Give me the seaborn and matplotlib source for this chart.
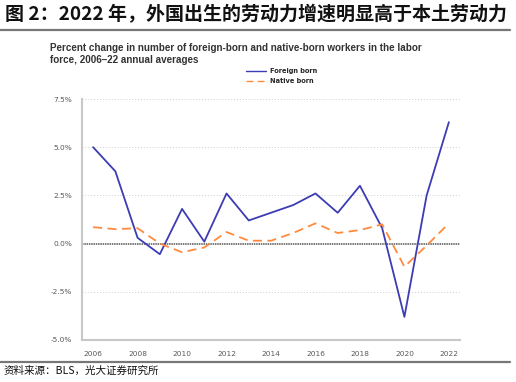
import matplotlib
matplotlib.use("Agg")
import matplotlib.pyplot as plt
import seaborn as sns
import pandas as pd
from matplotlib.lines import Line2D

# data
years = list(range(2006, 2023))
foreign_born = [5.0, 3.75, 0.3, -0.55, 1.8, 0.1, 2.6, 1.2, 1.6, 2.0, 2.6, 1.6, 3.0, 0.8, -3.8, 2.5, 6.3]
native_born = [0.85, 0.75, 0.8, 0.0, -0.45, -0.2, 0.6, 0.15, 0.15, 0.55, 1.05, 0.55, 0.7, 1.0, -1.2, -0.1, 1.05]
y_ticks = [-5.0, -2.5, 0.0, 2.5, 5.0, 7.5]
x_ticks = list(range(2006, 2023, 2))

df = pd.DataFrame({"year": years, "foreign": foreign_born, "native": native_born})

sns.set_theme(style="white")
plt.rcParams['font.family'] = ['Noto Sans CJK SC', 'DejaVu Sans']

fig = plt.figure(figsize=(5.16, 3.82), dpi=100)
ax = fig.add_axes([82/516, 1-340/382, (460-82)/516, (340-99)/382])

blue = "#3c3cb4"
orange = "#ff8a3d"

sns.lineplot(data=df, x="year", y="foreign", ax=ax, color=blue, linewidth=1.3)
sns.lineplot(data=df, x="year", y="native", ax=ax, color=orange, linewidth=1.3,
             linestyle=(0, (5, 3)))

# grid + zero line
for v in y_ticks:
    if v in (0.0, -5.0):
        continue
    ax.axhline(v, color="#d0d0d0", linewidth=0.7, linestyle=(0, (1, 2)), zorder=0)
ax.axhline(0, color="#555555", linewidth=1.1, linestyle=(0, (1, 0.5)), zorder=1)

ax.set_xlim(2005.5, 2022.5)
ax.set_ylim(-5.0, 7.5)
ax.set_yticks(y_ticks)
ax.set_yticklabels([f"{v:.1f}%" for v in y_ticks], fontsize=5.3, color="#595959",
                   family="DejaVu Sans")
ax.set_xticks(x_ticks)
ax.set_xticklabels([str(x) for x in x_ticks], fontsize=5.3, color="#595959",
                   family="DejaVu Sans")
ax.tick_params(axis="both", length=0)
ax.tick_params(axis="y", pad=7)
ax.tick_params(axis="x", pad=8)
ax.set_xlabel("")
ax.set_ylabel("")
for s in ["top", "right"]:
    ax.spines[s].set_visible(False)
ax.spines["left"].set_color("#c8c8c8")
ax.spines["left"].set_linewidth(1.5)
ax.spines["bottom"].set_color("#c8c8c8")
ax.spines["bottom"].set_linewidth(1.5)

# legend
handles = [Line2D([], [], color=blue, linewidth=1.0),
           Line2D([], [], color=orange, linewidth=1.0, linestyle=(0, (5, 3)))]
fig.legend(handles, ["Foreign born", "Native born"], loc="upper left",
           bbox_to_anchor=(246/516, 1-68/382), frameon=False,
           prop={"family": "DejaVu Sans", "weight": "bold", "size": 4.8},
           handlelength=3.0, handletextpad=0.6, labelspacing=0.6,
           borderaxespad=0, borderpad=0)

# texts
fig.text(5/516, 1-15/382, "图 2：2022 年，外国出生的劳动力增速明显高于本土劳动力",
         fontsize=13.7, fontweight="bold", color="#111111", va="center", ha="left")
fig.add_artist(Line2D([0, 510/516], [1-30/382, 1-30/382], color="#777777", linewidth=1.6))
fig.text(50/516, 1-54/382,
         "Percent change in number of foreign-born and native-born workers in the labor\n"
         "force, 2006\u201322 annual averages",
         fontsize=7.1, fontweight="bold", color="#333333", va="center", ha="left",
         family="Liberation Sans", linespacing=1.3)
fig.add_artist(Line2D([0, 510/516], [1-362/382, 1-362/382], color="#777777", linewidth=1.6))
fig.text(4/516, 1-371/382, "资料来源：BLS，光大证券研究所", fontsize=7.6,
         color="#111111", va="center", ha="left")

fig.savefig("out.png", dpi=100)
